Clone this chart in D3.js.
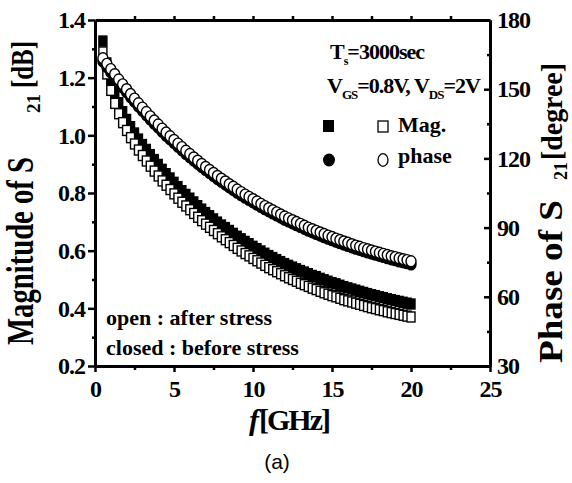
<!DOCTYPE html>
<html>
<head>
<meta charset="utf-8">
<script src="https://d3js.org/d3.v7.min.js"></script>
<style>
body { margin: 0; background: #fff; }
text { font-family: "Liberation Serif", "Times New Roman", serif; font-weight: bold; fill: #000; }
</style>
</head>
<body>
<script>
// frequency points (GHz)
const freq = [0.5,0.75,1,1.25,1.5,1.75,2,2.25,2.5,2.75,3,3.25,3.5,3.75,4,4.25,4.5,4.75,5,5.25,5.5,5.75,6,6.25,6.5,6.75,7,7.25,7.5,7.75,8,8.25,8.5,8.75,9,9.25,9.5,9.75,10,10.25,10.5,10.75,11,11.25,11.5,11.75,12,12.25,12.5,12.75,13,13.25,13.5,13.75,14,14.25,14.5,14.75,15,15.25,15.5,15.75,16,16.25,16.5,16.75,17,17.25,17.5,17.75,18,18.25,18.5,18.75,19,19.25,19.5,19.75,20]

// closed : before stress, open : after stress
const magClosed = [1.327,1.251,1.194,1.149,1.113,1.082,1.055,1.030,1.008,0.987,0.968,0.951,0.933,0.916,0.899,0.882,0.867,0.852,0.837,0.822,0.808,0.795,0.782,0.769,0.756,0.744,0.732,0.721,0.710,0.699,0.689,0.680,0.670,0.660,0.650,0.641,0.632,0.624,0.615,0.607,0.599,0.591,0.583,0.576,0.569,0.562,0.555,0.549,0.543,0.537,0.531,0.526,0.520,0.514,0.510,0.504,0.499,0.494,0.489,0.485,0.480,0.475,0.471,0.467,0.463,0.459,0.455,0.451,0.447,0.444,0.440,0.437,0.433,0.430,0.427,0.424,0.421,0.418,0.415]
const magOpen = [1.289,1.213,1.156,1.111,1.075,1.044,1.017,0.992,0.970,0.949,0.930,0.911,0.893,0.876,0.859,0.842,0.827,0.812,0.797,0.782,0.768,0.755,0.742,0.729,0.716,0.704,0.692,0.681,0.670,0.659,0.648,0.638,0.628,0.618,0.608,0.599,0.590,0.582,0.573,0.565,0.557,0.549,0.541,0.534,0.527,0.520,0.513,0.506,0.500,0.494,0.487,0.482,0.476,0.470,0.465,0.459,0.454,0.449,0.444,0.440,0.435,0.430,0.426,0.422,0.418,0.414,0.410,0.406,0.402,0.399,0.395,0.392,0.388,0.385,0.382,0.379,0.376,0.373,0.370]
const phaseClosed = [162.1,159.7,157.4,155.2,152.9,150.8,148.7,146.6,144.6,142.6,140.7,138.8,136.9,135.1,133.4,131.6,129.9,128.3,126.7,125.1,123.6,122.0,120.6,119.1,117.7,116.3,115.0,113.7,112.4,111.1,109.9,108.7,107.5,106.4,105.2,104.1,103.0,102.0,101.0,100.0,99.0,98.0,97.1,96.2,95.3,94.4,93.5,92.7,91.9,91.1,90.3,89.5,88.7,88.0,87.3,86.6,85.9,85.2,84.6,83.9,83.3,82.7,82.1,81.5,80.9,80.4,79.8,79.3,78.8,78.3,77.8,77.3,76.8,76.3,75.9,75.4,75.0,74.6,74.1]
const phaseOpen = [163.4,161.0,158.7,156.5,154.2,152.1,150.0,147.9,145.9,143.9,142.0,140.1,138.2,136.4,134.7,132.9,131.2,129.6,128.0,126.4,124.9,123.3,121.9,120.4,119.0,117.6,116.3,115.0,113.7,112.4,111.2,110.0,108.8,107.7,106.5,105.4,104.3,103.3,102.3,101.3,100.3,99.3,98.4,97.5,96.6,95.7,94.8,94.0,93.2,92.4,91.6,90.8,90.0,89.3,88.6,87.9,87.2,86.5,85.9,85.2,84.6,84.0,83.4,82.8,82.2,81.7,81.1,80.6,80.1,79.6,79.1,78.6,78.1,77.6,77.2,76.7,76.3,75.9,75.4]

const xTicks = [0,5,10,15,20,25]
const xMinor = [2.5,7.5,12.5,17.5,22.5]
const magTicks = [0.2,0.4,0.6,0.8,1.0,1.2,1.4]
const magMinor = [0.3,0.5,0.7,0.9,1.1,1.3]
const phaseTicks = [30,60,90,120,150,180]
const phaseMinor = [45,75,105,135,165]

width = 572
height = 483

svg = d3.select("body")
    .append("svg")
    .attr("width", width)
    .attr("height", height)

x = d3.scaleLinear().domain([0, 25]).range([95, 490])
yMag = d3.scaleLinear().domain([0.2, 1.4]).range([366, 20])
yPh = d3.scaleLinear().domain([30, 180]).range([366, 20])

// ---- axes ----
function styleAxis(g) {
    g.select(".domain").attr("stroke-width", 3).attr("stroke", "#000")
    g.selectAll(".tick line").attr("stroke-width", 2.5).attr("stroke", "#000")
    g.selectAll(".tick text")
        .style("font-family", '"Liberation Serif", serif')
        .style("font-weight", "bold")
        .style("font-size", "24px")
        .style("letter-spacing", "-1px")
        .attr("fill", "#000")
}

// bottom
svg.append("g").attr("transform", "translate(0,366)")
    .call(d3.axisBottom(x).tickValues(xMinor).tickSize(4).tickSizeOuter(0).tickFormat(""))
    .call(styleAxis)
svg.append("g").attr("transform", "translate(0,366)")
    .call(d3.axisBottom(x).tickValues(xTicks).tickSize(6).tickSizeOuter(0).tickPadding(8).tickFormat(d3.format("d")))
    .call(styleAxis)

// top
svg.append("g").attr("transform", "translate(0,20)")
    .call(d3.axisTop(x).tickValues(xMinor.concat(xTicks.slice(1, 5))).tickSize(4).tickSizeOuter(0).tickFormat(""))
    .call(styleAxis)

// left
svg.append("g").attr("transform", "translate(95,0)")
    .call(d3.axisLeft(yMag).tickValues(magMinor).tickSize(3).tickSizeOuter(0).tickFormat(""))
    .call(styleAxis)
svg.append("g").attr("transform", "translate(95,0)")
    .call(d3.axisLeft(yMag).tickValues(magTicks).tickSize(7).tickSizeOuter(0).tickPadding(3).tickFormat(d3.format(".1f")))
    .call(styleAxis)

// right (ticks point inward)
svg.append("g").attr("transform", "translate(490,0)")
    .call(d3.axisRight(yPh).tickValues(phaseMinor).tickSize(-3).tickSizeOuter(0).tickFormat(""))
    .call(styleAxis)
svg.append("g").attr("transform", "translate(490,0)")
    .call(d3.axisRight(yPh).tickValues(phaseTicks).tickSize(-6).tickSizeOuter(0).tickPadding(7).tickFormat(d3.format("d")))
    .call(styleAxis)

// ---- data ----
function squares(vals, fill) {
    svg.append("g").selectAll("rect")
        .data(freq.map((f, i) => ({f: f, v: vals[i]})))
        .enter()
        .append("rect")
        .attr("x", d => x(d.f) - 4)
        .attr("y", d => yMag(d.v) - 5)
        .attr("width", 8)
        .attr("height", 10)
        .attr("fill", fill)
        .attr("stroke", "#000")
        .attr("stroke-width", 1.4)
}
function circles(vals, fill) {
    svg.append("g").selectAll("ellipse")
        .data(freq.map((f, i) => ({f: f, v: vals[i]})))
        .enter()
        .append("ellipse")
        .attr("cx", d => x(d.f))
        .attr("cy", d => yPh(d.v))
        .attr("rx", 5)
        .attr("ry", 5.5)
        .attr("fill", fill)
        .attr("stroke", "#000")
        .attr("stroke-width", 1.4)
}
squares(magClosed, "#000")
squares(magOpen, "#fff")
circles(phaseClosed, "#000")
circles(phaseOpen, "#fff")

// ---- legend ----
leg = svg.append("g")
t1 = leg.append("text").attr("x", 330).attr("y", 59).style("font-size", "22px").style("letter-spacing", "-1px")
t1.append("tspan").text("T")
t1.append("tspan").attr("dy", 6).style("font-size", "12px").text("s")
t1.append("tspan").attr("dy", -6).text("=3000sec")

t2 = leg.append("text").attr("x", 327).attr("y", 93).style("font-size", "22px").style("letter-spacing", "-1px")
t2.append("tspan").text("V")
t2.append("tspan").attr("dy", 6).style("font-size", "13px").text("GS")
t2.append("tspan").attr("dy", -6).text("=0.8V, V")
t2.append("tspan").attr("dy", 6).style("font-size", "13px").text("DS")
t2.append("tspan").attr("dy", -6).text("=2V")

leg.append("rect").attr("x", 323).attr("y", 120).attr("width", 11).attr("height", 12).attr("fill", "#000")
leg.append("rect").attr("x", 378).attr("y", 121).attr("width", 10).attr("height", 11)
    .attr("fill", "#fff").attr("stroke", "#000").attr("stroke-width", 1.3)
leg.append("text").attr("x", 398).attr("y", 132).style("font-size", "22px").text("Mag.")
leg.append("ellipse").attr("cx", 329).attr("cy", 160).attr("rx", 6).attr("ry", 6.5).attr("fill", "#000")
leg.append("ellipse").attr("cx", 383).attr("cy", 160).attr("rx", 5).attr("ry", 6.3)
    .attr("fill", "#fff").attr("stroke", "#000").attr("stroke-width", 1.3)
leg.append("text").attr("x", 398).attr("y", 163).style("font-size", "22px").text("phase")

svg.append("text").attr("x", 106).attr("y", 325).style("font-size", "22px").text("open : after stress")
svg.append("text").attr("x", 106).attr("y", 355).style("font-size", "22px").text("closed : before stress")

// ---- axis titles ----
lt = svg.append("g").attr("transform", "translate(33,345) rotate(-90)")
lt.append("text").attr("x", 0).attr("y", 0).style("font-size", "38px")
    .attr("textLength", 188).attr("lengthAdjust", "spacingAndGlyphs").text("Magnitude of S")
lt.append("text").attr("x", 232).attr("y", 7).style("font-size", "19px").text("21")
lt.append("text").attr("x", 257).attr("y", 0).style("font-size", "32px")
    .attr("textLength", 47).attr("lengthAdjust", "spacingAndGlyphs").text("[dB]")

rt = svg.append("g").attr("transform", "translate(562,363) rotate(-90)")
rt.append("text").attr("x", 0).attr("y", 0).style("font-size", "34px")
    .attr("textLength", 163).attr("lengthAdjust", "spacingAndGlyphs").text("Phase of S")
rt.append("text").attr("x", 183).attr("y", 5).style("font-size", "18px").text("21")
rt.append("text").attr("x", 203).attr("y", 0).style("font-size", "30px")
    .attr("textLength", 97).attr("lengthAdjust", "spacingAndGlyphs").text("[degree]")

xt = svg.append("text").attr("x", 289).attr("y", 430).attr("text-anchor", "middle").style("font-size", "30px")
xt.append("tspan").style("font-style", "italic").text("f")
xt.append("tspan").style("letter-spacing", "-2px").text("[GHz]")

svg.append("text").attr("x", 277).attr("y", 469).attr("text-anchor", "middle")
    .style("font-family", '"Liberation Sans", Arial, sans-serif').style("font-weight", "normal")
    .style("font-size", "21px").text("(a)")
</script>
</body>
</html>
